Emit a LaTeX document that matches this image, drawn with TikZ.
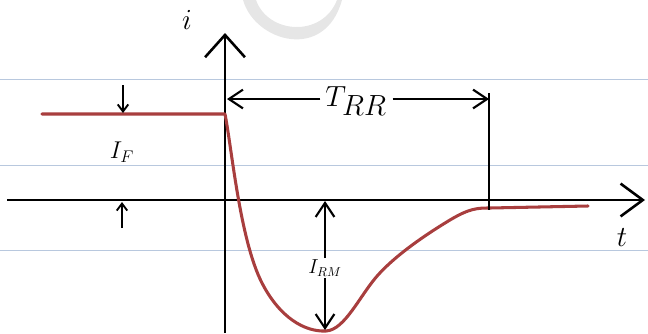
\documentclass[tikz,border=0pt]{standalone}
\usetikzlibrary{arrows.meta}

\definecolor{rulecol}{RGB}{184,200,222}
\definecolor{curvecol}{RGB}{168,62,62}
\definecolor{markcol}{RGB}{230,230,230}

\tikzset{
  axisline/.style={line width=2.2pt, -{Straight Barb[length=19pt,width=#1,line width=2.2pt]}},
  dimarrow/.style={line width=1.8pt, -{Straight Barb[length=12pt,width=16pt,line width=1.8pt]}},
  smallarrow/.style={line width=1.6pt, -{Straight Barb[length=6pt,width=9pt,line width=1.6pt]}},
  lab/.style={inner sep=1pt, font=\fontsize{#1}{#1}\selectfont}
}

\begin{document}
\begin{tikzpicture}[x=0.03cm,y=-0.03cm]
    \useasboundingbox (0,0) rectangle (648,333);
    % Ruled paper lines
    \foreach \yy in {79,165,250}
      \draw[rulecol, line width=0.8pt] (0,\yy) -- (648,\yy);
    % Faint mark at top
    \fill[markcol] (243,0) .. controls (255,42) and (325,62) .. (342,0)
      -- (337,0) .. controls (322,38) and (268,34) .. (256,0) -- cycle;
    % Axes
    \draw[axisline=34pt] (225,333) -- (225,33);
    \draw[axisline=28pt] (7,200) -- (645,200);
    \node[lab=32] (ilab) at (187,20) {$i$};
    \node[lab=32] (tlab) at (622,238) {$t$};
    % Recovery current
    \draw[curvecol, line width=2.6pt, line join=round, line cap=round] (42,114) -- (225,114)
      .. controls (232,150) and (240,240) .. (262,283)
      .. controls (280,318) and (305,332) .. (326,331)
      .. controls (345,330) and (360,295) .. (378,275)
      .. controls (396,255) and (425,235) .. (450,220)
      .. controls (470,208) and (478,208) .. (490,208)
      -- (588,206);
    % Forward current
    \node[lab=22] (iflab) at (122,152) {$I_F$};
    \draw[smallarrow] (123,85) -- (123,113);
    \draw[smallarrow] (122,228) -- (122,202);
    % Reverse recovery time
    \node[lab=34] (trr) at (356,101) {$T_{RR}$};
    \coordinate (tstart) at (227,99);
    \coordinate (tend) at (489,99);
    \draw[line width=2pt] (489,93) -- (489,210);
    \draw[dimarrow] ([xshift=-3pt]trr.west |- tstart) -- (tstart);
    \draw[dimarrow] ([xshift=4pt]trr.east |- tend) -- (tend);
    % Peak reverse current
    \node[lab=16] (irm) at (325,268) {$I_{RM}$};
    \coordinate (rtop) at (325,201);
    \coordinate (rbot) at (325,330);
    \draw[dimarrow] (irm.north) -- (rtop);
    \draw[dimarrow] (irm.south) -- (rbot);
\end{tikzpicture}
\end{document}
